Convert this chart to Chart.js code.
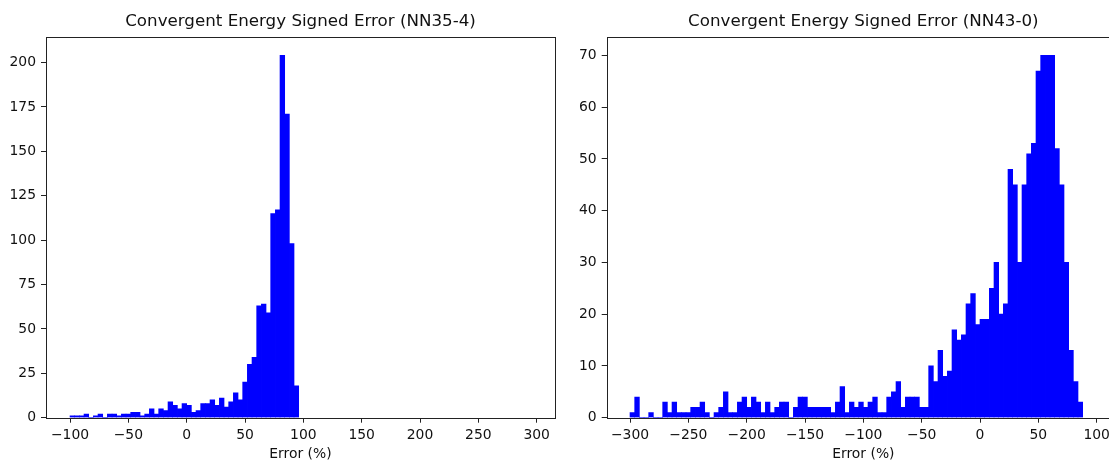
<!DOCTYPE html>
<html>
<head>
<meta charset="utf-8">
<script src="https://cdn.jsdelivr.net/npm/chart.js@4.4.1/dist/chart.umd.min.js"></script>
<style>
  html, body { margin: 0; padding: 0; background: #fff; overflow: hidden; }
  body { width: 1109px; height: 461px; position: relative; }
  .panel { position: absolute; top: 0; height: 461px; }
  #left-panel { left: 0; width: 560px; }
  #right-panel { left: 560px; width: 570px; }
</style>
</head>
<body>
<div class="panel" id="left-panel"><canvas id="chart-left"></canvas></div>
<div class="panel" id="right-panel"><canvas id="chart-right"></canvas></div>
<script>
// histogram.js — two signed-error histograms side by side

const binWidth = 4;

// NN35-4
const leftTitle = 'Convergent Energy Signed Error (NN35-4)';
const leftBinStart = -100;
const leftCounts = [
  1, 1, 1, 2, 0, 1, 2, 0, 2, 2,
  1, 2, 2, 3, 3, 1, 2, 5, 2, 5,
  4, 9, 7, 5, 8, 7, 3, 4, 8, 8,
  10, 7, 11, 6, 9, 14, 10, 20, 30, 34,
  63, 64, 59, 115, 117, 204, 171, 98, 18
];
const leftXTicks = [-100, -50, 0, 50, 100, 150, 200, 250, 300];
const leftYTicks = [0, 25, 50, 75, 100, 125, 150, 175, 200];

// NN43-0
const rightTitle = 'Convergent Energy Signed Error (NN43-0)';
const rightBinStart = -300;
const rightCounts = [
  1, 4, 0, 0, 1, 0, 0, 3, 1, 3,
  1, 1, 1, 2, 2, 3, 1, 0, 1, 2,
  5, 1, 1, 3, 4, 2, 4, 3, 1, 3,
  1, 2, 3, 3, 0, 2, 4, 4, 2, 2,
  2, 2, 2, 1, 3, 6, 1, 3, 2, 3,
  2, 3, 4, 1, 1, 4, 5, 7, 2, 4,
  4, 4, 2, 2, 10, 7, 13, 8, 9, 17,
  15, 16, 22, 24, 18, 19, 19, 25, 30, 20,
  22, 48, 45, 30, 45, 51, 53, 67, 70, 70,
  70, 52, 45, 30, 13, 7, 3
];
const rightXTicks = [-300, -250, -200, -150, -100, -50, 0, 50, 100];
const rightYTicks = [0, 10, 20, 30, 40, 50, 60, 70];

const FONT = 'DejaVu Sans';
const TEXT = '#111';

// axes frame (all four spines, like matplotlib)
const framePlugin = {
  id: 'frame',
  afterDraw(chart) {
    const { ctx, chartArea: a } = chart;
    const l = Math.round(a.left) + 0.5, t = Math.round(a.top) + 0.5;
    const r = Math.round(a.right) + 0.5, b = Math.round(a.bottom) + 0.5;
    ctx.save();
    ctx.strokeStyle = '#222';
    ctx.lineWidth = 1;
    ctx.strokeRect(l, t, r - l, b - t);
    ctx.restore();
  }
};

const fmt = v => String(v).replace('-', '\u2212');

function renderHistogram(canvasId, cfg) {
  const canvas = document.getElementById(canvasId);
  const points = cfg.counts.map((c, i) => ({ x: cfg.binStart + (i + 0.5) * binWidth, y: c }));

  return new Chart(canvas, {
    type: 'bar',
    data: {
      datasets: [{
        data: points,
        backgroundColor: '#0000ff',
        borderWidth: 0,
        barPercentage: 1,
        categoryPercentage: 1,
        grouped: false
      }]
    },
    options: {
      responsive: true,
      maintainAspectRatio: false,
      animation: false,
      layout: { padding: { left: 0, right: cfg.padRight, top: 0, bottom: 0 } },
      scales: {
        x: {
          type: 'linear',
          offset: false,
          min: cfg.xMin,
          max: cfg.xMax,
          afterBuildTicks: axis => { axis.ticks = cfg.xTicks.map(v => ({ value: v })); },
          afterFit: axis => { axis.height = 43.3; },
          ticks: {
            color: TEXT,
            padding: 4,
            maxRotation: 0,
            autoSkip: false,
            font: { family: FONT, size: 13.9 },
            callback: v => fmt(v)
          },
          grid: { offset: false, drawOnChartArea: false, drawTicks: true, tickLength: 5, color: '#222' },
          border: { display: false },
          title: {
            display: true,
            text: 'Error (%)',
            color: TEXT,
            font: { family: FONT, size: 13.9 },
            padding: { top: 0, bottom: -1.5 }
          }
        },
        y: {
          min: 0,
          max: cfg.yMax,
          afterBuildTicks: axis => { axis.ticks = cfg.yTicks.map(v => ({ value: v })); },
          afterFit: axis => { axis.width = cfg.yWidth; },
          ticks: {
            color: TEXT,
            padding: 5,
            autoSkip: false,
            font: { family: FONT, size: 13.9 },
            callback: v => fmt(v)
          },
          grid: { offset: false, drawOnChartArea: false, drawTicks: true, tickLength: 5, color: '#222' },
          border: { display: false }
        }
      },
      plugins: {
        legend: { display: false },
        tooltip: { enabled: false },
        title: {
          display: true,
          text: cfg.title,
          fullSize: false,
          color: TEXT,
          font: { family: FONT, size: 16.7, weight: 'normal' },
          padding: { top: 12, bottom: 5.3 }
        }
      }
    },
    plugins: [framePlugin]
  });
}

renderHistogram('chart-left', {
  title: leftTitle,
  counts: leftCounts,
  binStart: leftBinStart,
  xTicks: leftXTicks,
  yTicks: leftYTicks,
  xMin: -120.6,
  xMax: 315.7,
  yMax: 214.2,
  yWidth: 46,
  padRight: 5
});

renderHistogram('chart-right', {
  title: rightTitle,
  counts: rightCounts,
  binStart: rightBinStart,
  xTicks: rightXTicks,
  yTicks: rightYTicks,
  xMin: -320,
  xMax: 120,
  yMax: 73.5,
  yWidth: 46.7,
  padRight: 10
});
</script>
</body>
</html>
